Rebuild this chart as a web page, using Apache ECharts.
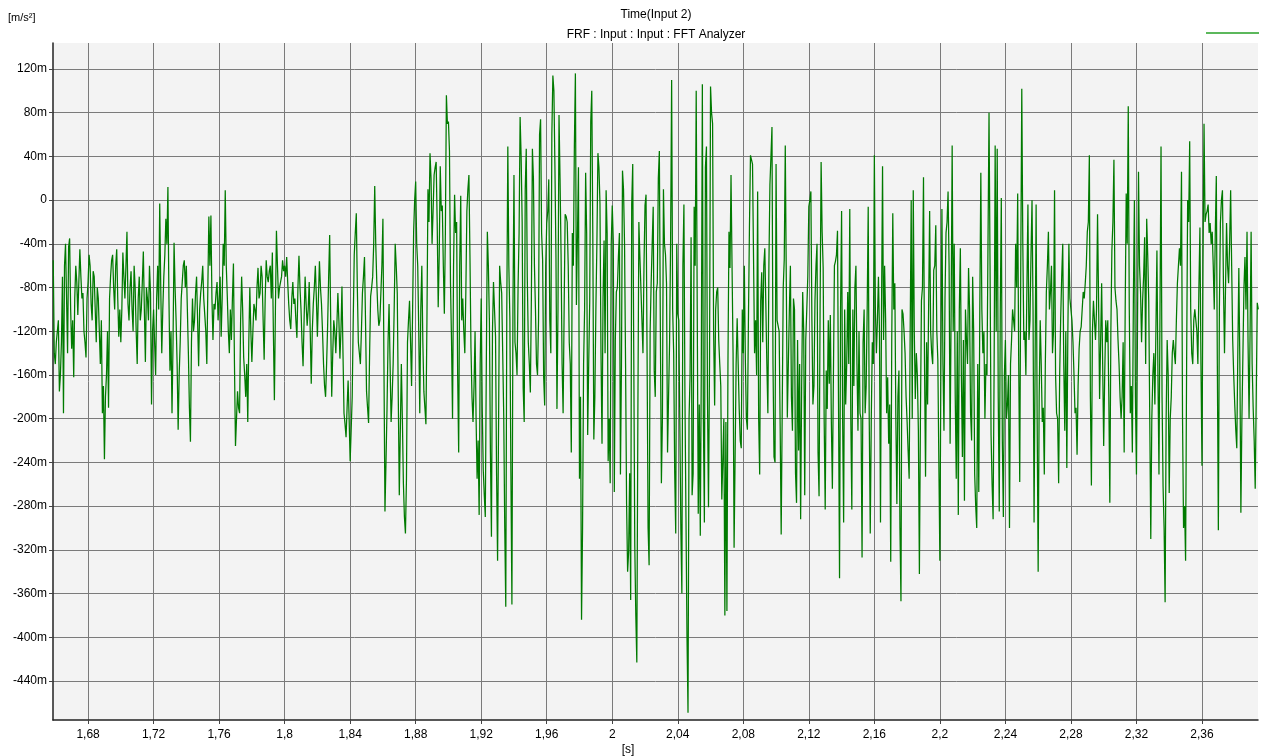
<!DOCTYPE html>
<html><head><meta charset="utf-8">
<script src="https://cdn.jsdelivr.net/npm/echarts@6/dist/echarts.min.js"></script>
<style>html,body{margin:0;padding:0;background:#fff}#c{width:1264px;height:756px}</style>
</head><body><div id="c"></div>
<script>
// sample start time [s] and step [s] of the read-off samples
const T0 = 1.65875, DT = 0.00125;
// acceleration in m/s^2 * 1e-3 (labels show "m"), values at T0 + i*DT
const accA = [-55,-150,-120,-175,-130,-195,-40,-140,-35,-136,-162,-60,-105,-45,-90,-120,-144,
-75,-60,-110,-70,-130,-90,-150,-195,-237,-160,-190,-70,-50,-100,-45,-125,
-130,-48,-90,-29,-110,-65,-120,-80,-150,-70,-100,-47,-148,-90,-60,-187,
-100,-160,-60,-3,-140,-70,-17,12,-156,-195,-39,-110,-210,-130,-75,-55,
-60,-140,-221,-90,-110,-70,-152,-85,-60,-105,-150,-15,-14,-128,-100,-75];
const accB = [-90,-125,-40,9,-88,-140,-128,-58,-225,-175,-195,-70,-144,-180,-203,-80,
-148,-95,-110,-62,-85,-70,-146,-55,-75,-60,-48,-183,-28,-90,-75,-55,
-60,-52,-95,-118,-75,-90,-126,-51,-100,-152,-70,-115,-75,-168,-95,-60,
-125,-56,-95,-150,-180,-115,-32,-180,-110,-140,-85,-145,-79,-195,-217,-165,
-239,-180,-50,-12,-130,-150,-85,-52,-175,-204,-88,-70,13,-75,-115,-110,
-17,-285,-191,-95,-203,-150,-40,-85,-270,-150,-259,-305,-130,-92,-170,-29];
const accC = [17,-60,-195,-60,-175,-205,10,43,-40,23,35,-98,31,-5,-104,96,
72,-76,-200,5,-20,-231,4,-90,-140,-10,23,-135,-203,-120,-255,-288,
-90,-247,-290,-29,-110,-308,-75,-125,-330,-60,-85,-197,-372,49,-108,-370,
23,-140,-80,76,-20,-203,47,-130,-176,47,-60,-150,-110,74,-55,-188,
-21,19,-140,114,31,-191,78,-49,-195,-13,-20,-130,-231,-60,116,-96,
-255,-384,-150,25,-215,-92,100,-219,-100,43,-3,-223,-37,9,-239,-259];
const accD = [-5,-267,-84,-52,-251,27,-40,-278,-322,-366,33,-316,-423,-20,-52,-140,
-5,-140,-334,-76,-6,-180,-76,45,-259,10,-50,-231,-130,110,-140,-305,
-104,-110,-360,-4,-290,-469,-160,-270,-6,100,-287,-307,106,-295,49,-281,
104,70,-188,-84,-128,-170,-274,-380,-376,-29,23,-140,-318,-108,-191,-227,
-140,-146,-210,-25,41,33,-110,8,-251,-66,-60,-95,-195,14,67,-235,
33,-110,-207,-306,-54,50,-199,-60,-211,-100,-277,-229,-292,-84,-270,-100];
const accE = [-6,8,-187,-92,-40,-271,35,-62,-283,-191,-168,-203,-264,-56,-28,-346,
-10,-295,-187,-84,-8,-283,-170,-60,-211,-195,-327,-100,-170,-6,-305,-130,
41,-140,-70,-295,31,-60,-195,-223,-331,-12,-76,-278,-156,-367,-104,-140,
-203,-255,0,9,-182,-160,-342,-92,21,-253,-187,-10,-140,-64,-23,-146,
-330,-8,-211,-30,8,-223,50,-40,-255,-288,-44,-235,-275,-128,-62,-195,
-70,-251,-300,-267,25,-140,-200,-160,80,-215,-292,50,47,-285,2,-290];
const accF = [-128,-187,-300,-128,-100,-40,6,-258,102,-128,-160,-4,-110,0,-295,-4,
-340,-110,-203,-251,-84,-29,-84,-140,9,-195,-259,-108,-40,-211,-245,-40,
-100,-130,-195,-233,-136,-116,-84,-76,-29,41,-261,-92,-128,-13,-182,-76,
-225,-110,-110,-277,-46,37,-92,-128,-180,-180,-231,6,86,-195,-231,0,
-251,26,-84,-92,-34,-17,-92,-310,-160,-187,-46,-251,49,-262,-368,-128,
-268,-180,-128,-150,-76,-44,26,-300,-330,0,54,-140,-110,-100,-150,-25];
const accG = [-243,70,-13,-4,-21,-29,-100,22,-302,-21,9,-140,-21,-76,9,-128,-187,-227,-62,-286,-140,-52,-29,-200,-29,-190,-264,-94];

// values read half a step later, at T0 + (i + 0.5)*DT
const midA = [-140,-130,-110,-160,-70,-60,-90,-43,-100,-110,-90,-75,-75,-70,-85,-130,-90,
-50,-95,-65,-100,-80,-120,-110,-170,-180,-120,-90,-55,-80,-60,-90,-100,
-100,-70,-60,-95,-80,-100,-60,-120,-90,-110,-75,-100,-80,-110,-85,-120,
-130,-90,-100,-80,-100,-50,-40,-90,-120,-130,-80,-150,-160,-90,-60,-80,
-100,-190,-130,-120,-85,-110,-100,-75,-90,-120,-80,-60,-90,-95,-85,-110];
const midB = [-70,-90,-60,-60,-120,-100,-90,-150,-200,-190,-110,-100,-160,-150,-130,-120,
-120,-100,-80,-90,-60,-110,-90,-70,-65,-90,-120,-100,-60,-80,-70,-65,
-70,-75,-110,-90,-95,-110,-80,-80,-130,-110,-95,-100,-120,-120,-80,-90,
-90,-80,-120,-170,-150,-70,-110,-140,-120,-115,-110,-120,-140,-205,-190,-200,
-210,-110,-30,-80,-140,-120,-70,-110,-190,-140,-80,-40,-40,-100,-110,-60,
-150,-240,-130,-150,-180,-100,-60,-180,-211,-200,-290,-255,-110,-130,-100,0];
const midC = [-40,-120,-100,-130,-190,-110,-20,20,-10,30,-20,-50,-10,-60,-30,70,
45,-128,-60,-30,-160,-60,-110,-120,-84,10,-50,-180,-170,-200,-220,-150,
-190,-270,-150,-60,-231,-120,-100,-250,-200,-75,-140,-300,-100,-60,-250,-100,
-130,-160,-30,40,-172,10,-70,-150,-90,20,-100,-160,60,-30,-162,-60,
-10,-110,60,100,-50,-100,20,-150,-100,-15,-60,-150,-30,50,-96,30,
-180,-300,-100,-30,-150,72,-30,-180,-40,30,-140,-90,-140,-30,-200,-40];
const midD = [-37,-128,-80,-30,-150,10,-150,-340,-250,-4,-140,-380,-200,-52,-110,-60,
5,-300,-120,-40,-156,-84,20,-120,-200,-40,-76,-180,-37,-100,-250,-40,
-110,-300,-60,-180,-400,-200,-34,-250,-60,-100,-187,-150,-200,30,-180,-150,
80,-120,-100,-80,-150,-274,-200,-203,-150,-62,-60,-318,-150,-150,-220,-100,
-60,-200,-110,41,33,-140,-160,-200,-92,-130,-44,-150,-60,40,-150,-240,
-110,-120,-306,-80,50,-199,-100,-180,-90,-250,-128,-150,-170,-120,-128,-70];
const midE = [0,-110,-170,-60,-231,-100,-29,-203,-156,-110,-105,-264,-60,-50,-187,-100,
-200,-100,-150,-150,-200,-100,-80,-150,-120,-200,-130,-195,-100,-200,-200,-150,
-100,-110,-120,-100,-128,-108,-162,-187,-128,-100,-200,-180,-300,-100,-120,-180,
-230,-120,-200,-120,-140,-211,-200,-80,-150,-130,-187,-120,-150,-60,-120,-240,
-150,-150,-90,-20,-60,-100,-120,-180,-120,-100,-160,-128,-100,-150,-100,-220,
-120,-280,-150,-100,-100,-120,-150,-40,-60,-260,-150,-120,-180,-100,-220,-160];
const midF = [-200,-160,-150,-100,-120,-80,-150,-60,-40,-120,-80,-128,-50,-100,-150,-200,
-180,-150,-190,-150,-60,-100,-60,-120,-160,-200,-160,-70,-150,-120,-120,-90,
-110,-160,-190,-170,-120,-100,-90,-60,-20,-180,-120,-110,-100,-90,-130,-150,
-160,-130,-180,-120,-20,-80,-100,-150,-200,-130,-100,-40,-100,-170,-90,-180,
-120,-60,-130,-70,-150,-50,-200,-200,-140,-120,-160,-100,-180,-300,-200,-160,
-200,-140,-140,-110,-60,-60,-200,-280,-150,-20,-100,-150,-100,-120,-80,-150];
const midG = [-60,-20,-10,-30,-40,-60,-30,-150,-100,0,-80,-80,-60,-40,-60,-160,-210,-140,-150,-200,-80,-100,-130,-120,-150,-220,-180,-100];

const xTicks = [1.68,1.72,1.76,1.80,1.84,1.88,1.92,1.96,2.00,2.04,2.08,2.12,2.16,2.20,2.24,2.28,2.32,2.36];
const yTicks = [120,80,40,0,-40,-80,-120,-160,-200,-240,-280,-320,-360,-400,-440];
const X_MIN = 1.6586, X_MAX = 2.3942, Y_MIN = -475.7, Y_MAX = 143.8;

const main = [].concat(accA, accB, accC, accD, accE, accF, accG);
const mid = [].concat(midA, midB, midC, midD, midE, midF, midG);
const seriesData = [];
main.forEach((v, i) => {
  seriesData.push([+(T0 + i * DT).toFixed(6), v]);
  if (mid[i] !== undefined) seriesData.push([+(T0 + (i + 0.5) * DT).toFixed(6), mid[i]]);
});

const FONT = '"Liberation Sans", Arial, sans-serif';
const chart = echarts.init(document.getElementById('c'), null, {renderer: 'canvas'});
chart.setOption({
  animation: false,
  backgroundColor: '#ffffff',
  grid: {left: 53, right: 6, top: 43, bottom: 36, show: true, backgroundColor: '#f3f3f3', borderWidth: 0, outerBoundsMode: 'none'},
  legend: {
    left: 1206, top: 32, padding: 0, itemWidth: 53, itemHeight: 2, icon: 'rect',
    formatter: () => '', textStyle: {fontSize: 1},
    data: [{name: 'Time(Input 2)', itemStyle: {color: '#5cb85c'}}]
  },
  xAxis: {
    type: 'value', min: X_MIN, max: X_MAX, minInterval: 0.04, maxInterval: 0.04,
    axisLine: {show: true, onZero: false, lineStyle: {color: '#222', width: 1.5}},
    axisTick: {show: true, length: 4, customValues: xTicks, lineStyle: {color: '#444'}},
    axisLabel: {
      customValues: xTicks, margin: 9, color: '#000', fontSize: 12, fontFamily: FONT,
      formatter: v => String(parseFloat((+v).toFixed(2))).replace('.', ',')
    },
    splitLine: {show: true, lineStyle: {color: '#7a7a7a', width: 1}}
  },
  yAxis: {
    type: 'value', min: Y_MIN, max: Y_MAX, minInterval: 40, maxInterval: 40,
    axisLine: {show: true, onZero: false, lineStyle: {color: '#222', width: 1.5}},
    axisTick: {show: true, length: 4, customValues: yTicks, lineStyle: {color: '#444'}},
    axisLabel: {
      customValues: yTicks, margin: 6, color: '#000', fontSize: 12, fontFamily: FONT,
      formatter: v => (Math.round(v) === 0 ? '0' : Math.round(v) + 'm')
    },
    splitLine: {show: true, lineStyle: {color: '#7a7a7a', width: 1}}
  },
  series: [{
    name: 'Time(Input 2)', type: 'line', data: seriesData, showSymbol: false, symbol: 'none',
    lineStyle: {color: '#007a00', width: 1.25}, itemStyle: {color: '#007a00'}, clip: true
  }],
  graphic: [
    {type: 'text', style: {text: 'Time(Input 2)', x: 656, y: 15, align: 'center', verticalAlign: 'middle', textAlign: 'center', textVerticalAlign: 'middle', font: '12px ' + FONT, fill: '#000'}},
    {type: 'text', style: {text: 'FRF : Input : Input : FFT Analyzer', x: 656, y: 35, align: 'center', verticalAlign: 'middle', textAlign: 'center', textVerticalAlign: 'middle', font: '12px ' + FONT, fill: '#000'}},
    {type: 'text', style: {text: '[m/s²]', x: 8, y: 18, align: 'left', verticalAlign: 'middle', textAlign: 'left', textVerticalAlign: 'middle', font: '11px ' + FONT, fill: '#000'}},
    {type: 'text', style: {text: '[s]', x: 628, y: 750, align: 'center', verticalAlign: 'middle', textAlign: 'center', textVerticalAlign: 'middle', font: '12px ' + FONT, fill: '#000'}}
  ]
});
</script></body></html>
